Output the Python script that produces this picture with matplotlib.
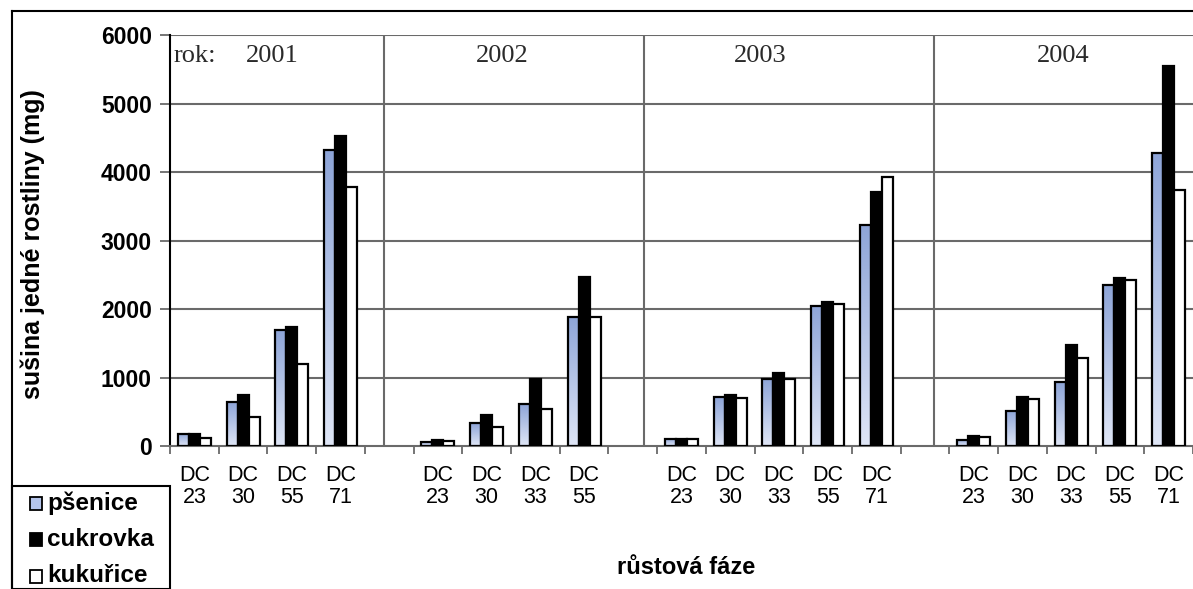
import numpy as np
import matplotlib
matplotlib.use("Agg")
import matplotlib.pyplot as plt
from matplotlib.colors import LinearSegmentedColormap
from matplotlib.patches import Rectangle
from matplotlib.lines import Line2D

# Growth stages per slot (empty strings are gaps between seasons)
stages = ["DC\n23", "DC\n30", "DC\n55", "DC\n71", "",
          "DC\n23", "DC\n30", "DC\n33", "DC\n55", "",
          "DC\n23", "DC\n30", "DC\n33", "DC\n55", "DC\n71", "",
          "DC\n23", "DC\n30", "DC\n33", "DC\n55", "DC\n71"]

nan = np.nan
# Dry matter of one plant (mg)
psenice = [180, 640, 1700, 4320, nan,
           65, 330, 610, 1890, nan,
           105, 710, 975, 2050, 3230, nan,
           90, 515, 930, 2355, 4275]
cukrovka = [180, 745, 1735, 4525, nan,
            90, 450, 985, 2470, nan,
            105, 745, 1060, 2105, 3705, nan,
            145, 710, 1475, 2455, 5550]
kukurice = [110, 430, 1195, 3780, nan,
            70, 280, 540, 1890, nan,
            105, 695, 975, 2070, 3925, nan,
            125, 685, 1290, 2425, 3730]

years = ["2001", "2002", "2003", "2004"]
year_sep = [3.89, 9.23, 15.19]
year_label_x = [1.6, 6.32, 11.61, 17.83]

W, H = 1193, 589
fig = plt.figure(figsize=(W / 100, H / 100), dpi=100)
ax = fig.add_axes([170 / W, 1 - 446 / H, (1193 - 170) / W, (446 - 35) / H])

x = np.arange(len(stages))
bw = 0.225
grid_c = "#6a6a6a"

ax.set_xlim(-0.5, len(stages) - 0.5)
ax.set_ylim(0, 6000)

# horizontal grid
for v in range(1000, 6001, 1000):
    ax.axhline(v, color=grid_c, lw=1.5, zorder=1)
# season separators
for s in year_sep:
    ax.axvline(s, color=grid_c, lw=1.5, zorder=1)

blue_cmap = LinearSegmentedColormap.from_list("bl", ["#dfe6f6", "#8ea5d8"])
grad = np.linspace(0, 1, 128).reshape(-1, 1)

b1 = ax.bar(x - bw, psenice, bw, facecolor="none", edgecolor="black", lw=1.6, zorder=3)
b2 = ax.bar(x, cukrovka, bw, facecolor="black", edgecolor="black", lw=1.6, zorder=3)
b3 = ax.bar(x + bw, kukurice, bw, facecolor="white", edgecolor="black", lw=1.6, zorder=3)

# gradient fill for the wheat bars
for r in b1:
    h = r.get_height()
    if not np.isfinite(h):
        continue
    x0 = r.get_x()
    ax.imshow(grad, cmap=blue_cmap, origin="lower", aspect="auto",
              extent=[x0, x0 + r.get_width(), 0, h], zorder=2.5,
              interpolation="bilinear")
ax.set_xlim(-0.5, len(stages) - 0.5)
ax.set_ylim(0, 6000)

for sp in ["top", "right"]:
    ax.spines[sp].set_visible(False)
ax.spines["left"].set_color("black")
ax.spines["left"].set_linewidth(1.5)
ax.spines["bottom"].set_color(grid_c)
ax.spines["bottom"].set_linewidth(1.5)

ax.set_yticks(range(0, 6001, 1000))
ax.set_yticklabels([str(v) for v in range(0, 6001, 1000)],
                   fontsize=16.5, fontweight="bold", family="Liberation Sans")
ax.tick_params(axis="y", length=7, width=1.3, color=grid_c, pad=6)

ax.set_xticks(np.arange(len(stages) + 1) - 0.5, minor=False)
ax.set_xticklabels([])
ax.tick_params(axis="x", which="major", length=6, width=1.3, color=grid_c)
ax.set_xticks(x, minor=True)
ax.set_xticklabels(stages, minor=True, fontsize=15.5, family="Liberation Sans",
                   linespacing=1.05)
ax.tick_params(axis="x", which="minor", length=0, pad=14)

# season labels
serif = dict(fontsize=19, family="Liberation Serif", va="center", color="#2a2a2a")
ax.text(-0.43, 5690, "rok:", ha="left", **serif)
for yl, xp in zip(years, year_label_x):
    ax.text(xp, 5690, yl, ha="center", **serif)

fig.text(33 / W, 1 - 244 / H, "sušina jedné rostliny (mg)", rotation=90,
         fontsize=18, fontweight="bold", family="Liberation Sans",
         ha="center", va="center")
fig.text(686 / W, 1 - 567 / H, "růstová fáze", fontsize=17,
         fontweight="bold", family="Liberation Sans", ha="center", va="center")

# outer frame
fig.add_artist(Line2D([12 / W, 12 / W], [0, 1 - 11 / H], color="black", lw=1.5,
                      transform=fig.transFigure))
fig.add_artist(Line2D([12 / W, 1], [1 - 11 / H, 1 - 11 / H], color="black", lw=1.5,
                      transform=fig.transFigure))

# legend box
fig.add_artist(Rectangle((12 / W, 0), (170 - 12) / W, (589 - 486) / H,
                         transform=fig.transFigure, facecolor="white",
                         edgecolor="black", lw=1.5))
legend_items = [("pšenice", "#b4c4ea"), ("cukrovka", "black"), ("kukuřice", "white")]
for i, (name, col) in enumerate(legend_items):
    yc = 503 + i * 36.5
    fig.add_artist(Rectangle((30 / W, 1 - (yc + 6.5) / H), 12 / W, 13 / H,
                             transform=fig.transFigure, facecolor=col,
                             edgecolor="black", lw=1.3))
    fig.text(47 / W, 1 - yc / H, name, fontsize=17.5, fontweight="bold",
             family="Liberation Sans", ha="left", va="center")

fig.savefig("out.png", dpi=100)
